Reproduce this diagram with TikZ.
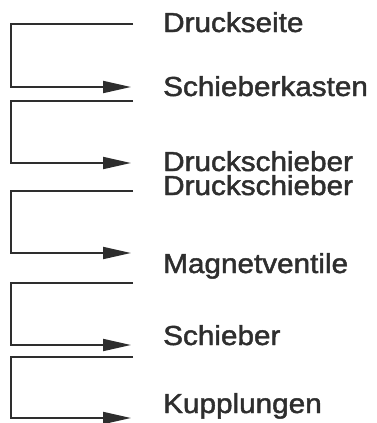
\documentclass[tikz,border=0pt]{standalone}
\usepackage{fontspec}
\setmainfont{Liberation Sans}[FakeBold=1.6]
\usetikzlibrary{arrows.meta}
\definecolor{ink}{HTML}{2E2E2E}
\tikzset{
  lbl/.style={anchor=base west, inner sep=0pt, text=ink, font=\fontsize{27.5}{30}\selectfont, xscale=1.08},
  bracket/.style={draw=ink, line width=1.9pt, -{Triangle[length=28pt,width=12pt]}}
}
\begin{document}
\begin{tikzpicture}[x=1pt,y=-1pt]
\useasboundingbox (0,0) rectangle (377,423);
\node[lbl] (n1) at (163,32) {Druckseite};
\node[lbl] (n2) at (163,96) {Schieberkasten};
\node[lbl, text depth=0pt] (n3) at (163,171) {Druckschieber};
\node[lbl] (n4) at (163,195) {Druckschieber};
\node[lbl] (n5) at (163,273) {Magnetventile};
\node[lbl] (n6) at (163,345) {Schieber};
\node[lbl] (n7) at (163,413) {Kupplungen};
\coordinate (t1) at (133,24);  \coordinate (a1) at (131,87);
\coordinate (t2) at (133,101); \coordinate (a2) at (131,163);
\coordinate (t3) at (133,191); \coordinate (a3) at (131,253);
\coordinate (t4) at (133,283); \coordinate (a4) at (131,345);
\coordinate (t5) at (133,357); \coordinate (a5) at (131,418);
\foreach \i in {1,...,5}{
  \draw[bracket] (t\i) -- ++(-122,0) |- (a\i);
}
\end{tikzpicture}
\end{document}
